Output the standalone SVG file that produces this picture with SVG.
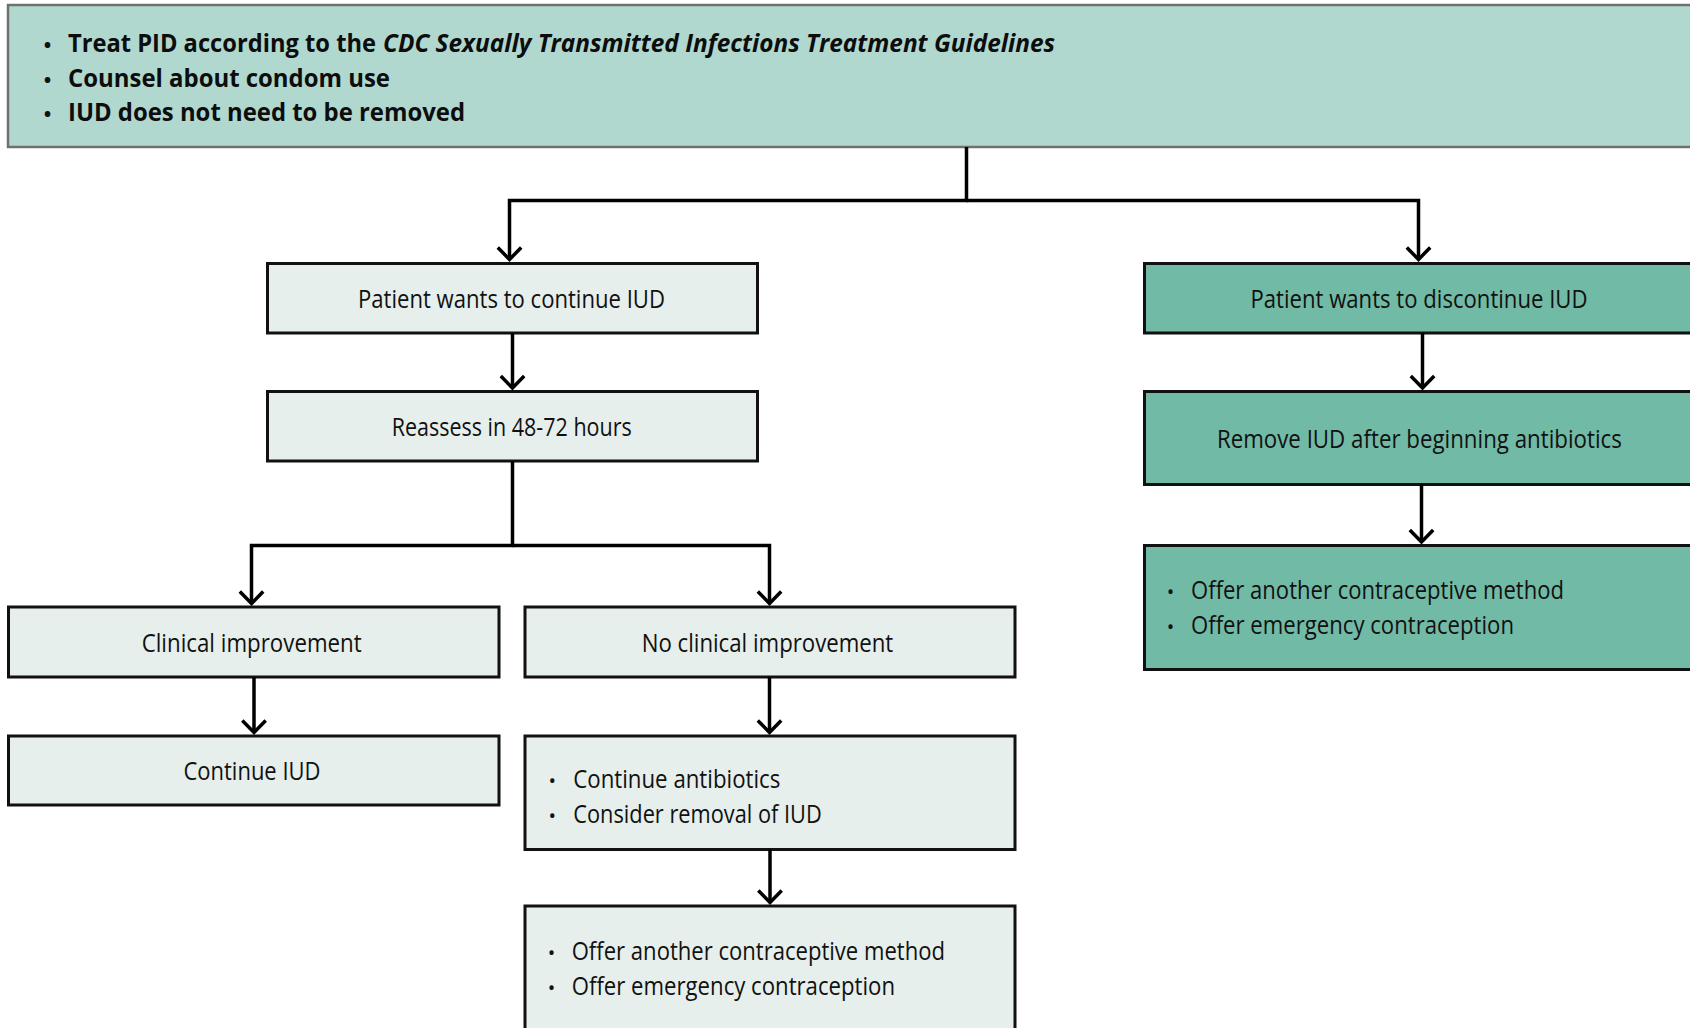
<svg xmlns="http://www.w3.org/2000/svg" width="1690" height="1028" viewBox="0 0 1690 1028">
<style>
.top{fill:#b0d8cf;stroke:#707070;stroke-width:2.5}
.lt{fill:#e6efeb;stroke:#111;stroke-width:3}
.gr{fill:#71baa6;stroke:#111;stroke-width:3}
.t{font-family:"Open Sans","Noto Sans","Liberation Sans",sans-serif;font-size:25.5px;fill:#111}
.c{text-anchor:middle}
.b{font-weight:bold;fill:#0d0d0d;font-size:25px}
.i{font-style:italic}
.bul{font-family:"Open Sans","Noto Sans","Liberation Sans",sans-serif;font-size:20px;fill:#111;text-anchor:middle}
.conn path{fill:none;stroke:#000;stroke-width:3.5;marker-end:url(#arr)}
</style>
<defs>
<marker id="arr" viewBox="-14 -14 16 28" refX="0" refY="0" markerWidth="16" markerHeight="28" markerUnits="userSpaceOnUse" orient="auto" overflow="visible">
<path d="M-12,-11.7 L0,0 L-12,11.7" fill="none" stroke="#000" stroke-width="3.5"/>
</marker>
</defs>
<rect width="1690" height="1028" fill="#fff"/>

<g id="n-top">
<rect class="top" x="8" y="5" width="1700" height="142"/>
<text class="bul b" x="47.5" y="52" font-size="24">•</text>
<text class="t b" x="68" y="52" textLength="308" lengthAdjust="spacingAndGlyphs">Treat PID according to the</text>
<text class="t b i" x="383" y="52" textLength="672" lengthAdjust="spacingAndGlyphs">CDC Sexually Transmitted Infections Treatment Guidelines</text>
<text class="bul b" x="47.5" y="86.5" font-size="24">•</text>
<text class="t b" x="68" y="86.5" textLength="322" lengthAdjust="spacingAndGlyphs">Counsel about condom use</text>
<text class="bul b" x="47.5" y="121" font-size="24">•</text>
<text class="t b" x="68" y="121" textLength="397" lengthAdjust="spacingAndGlyphs">IUD does not need to be removed</text>
</g>

<g id="n-continue">
<rect class="lt" x="267.5" y="263.5" width="490" height="69.5"/>
<text class="t c" x="511.5" y="307.5" textLength="307" lengthAdjust="spacingAndGlyphs">Patient wants to continue IUD</text>
</g>

<g id="n-discontinue">
<rect class="gr" x="1144.5" y="263.5" width="560" height="69.5"/>
<text class="t c" x="1419" y="307.5" textLength="337" lengthAdjust="spacingAndGlyphs">Patient wants to discontinue IUD</text>
</g>

<g id="n-reassess">
<rect class="lt" x="267.5" y="391.5" width="490" height="69.5"/>
<text class="t c" x="511.7" y="435.5" textLength="240" lengthAdjust="spacingAndGlyphs">Reassess in 48-72 hours</text>
</g>

<g id="n-remove">
<rect class="gr" x="1144.5" y="391.5" width="560" height="93"/>
<text class="t c" x="1419.4" y="447.5" textLength="405" lengthAdjust="spacingAndGlyphs">Remove IUD after beginning antibiotics</text>
</g>

<g id="n-offer-right">
<rect class="gr" x="1144.5" y="545.5" width="560" height="124"/>
<text class="bul" x="1170.5" y="599">•</text>
<text class="t" x="1191" y="599" textLength="373" lengthAdjust="spacingAndGlyphs">Offer another contraceptive method</text>
<text class="bul" x="1170.5" y="634">•</text>
<text class="t" x="1191" y="634" textLength="323" lengthAdjust="spacingAndGlyphs">Offer emergency contraception</text>
</g>

<g id="n-clinical">
<rect class="lt" x="8.5" y="607" width="490.5" height="70"/>
<text class="t c" x="251.7" y="651.5" textLength="220" lengthAdjust="spacingAndGlyphs">Clinical improvement</text>
</g>

<g id="n-noclinical">
<rect class="lt" x="525" y="607" width="490" height="70"/>
<text class="t c" x="767.5" y="651.5" textLength="251.6" lengthAdjust="spacingAndGlyphs">No clinical improvement</text>
</g>

<g id="n-continueiud">
<rect class="lt" x="8.5" y="736" width="490.5" height="69"/>
<text class="t c" x="252" y="780" textLength="137" lengthAdjust="spacingAndGlyphs">Continue IUD</text>
</g>

<g id="n-antibiotics">
<rect class="lt" x="525" y="736" width="490" height="113.5"/>
<text class="bul" x="552.3" y="788.3">•</text>
<text class="t" x="573.3" y="788.3" textLength="207" lengthAdjust="spacingAndGlyphs">Continue antibiotics</text>
<text class="bul" x="552.3" y="823.3">•</text>
<text class="t" x="573.3" y="823.3" textLength="248.4" lengthAdjust="spacingAndGlyphs">Consider removal of IUD</text>
</g>

<g id="n-offer-left">
<rect class="lt" x="525" y="906" width="490" height="140"/>
<text class="bul" x="551.5" y="960">•</text>
<text class="t" x="571.7" y="960" textLength="373.3" lengthAdjust="spacingAndGlyphs">Offer another contraceptive method</text>
<text class="bul" x="551.5" y="995">•</text>
<text class="t" x="571.7" y="995" textLength="323.3" lengthAdjust="spacingAndGlyphs">Offer emergency contraception</text>
</g>

<g id="connectors" class="conn">
<path d="M966.5,147 V200.5 H509.5 V259.5"/>
<path d="M966.5,200.5 H1418.5 V259.5"/>
<path d="M512.5,333 V388"/>
<path d="M512.5,461 V545.5 H251.5 V603.5"/>
<path d="M512.5,545.5 H769.5 V603.5"/>
<path d="M254,677 V732.5"/>
<path d="M769.5,677 V732.5"/>
<path d="M770,849.5 V902.5"/>
<path d="M1422.5,333 V388"/>
<path d="M1421.5,484.5 V542"/>
</g>
</svg>
